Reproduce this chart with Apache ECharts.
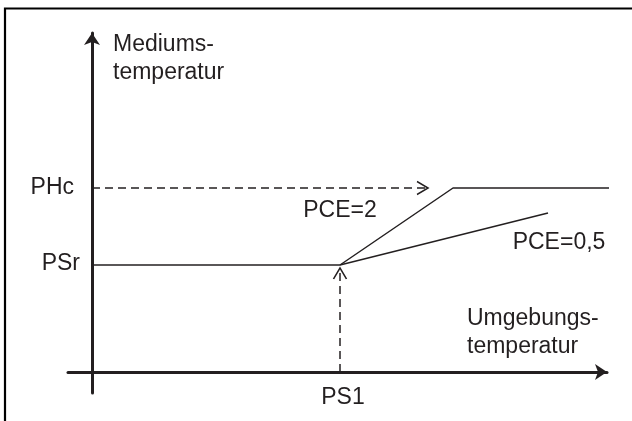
<!DOCTYPE html>
<html>
<head>
<meta charset="utf-8">
<script src="https://cdn.jsdelivr.net/npm/echarts@6/dist/echarts.min.js"></script>
<style>
  html, body { margin: 0; padding: 0; background: #fff; }
  #main { width: 632px; height: 421px; }
</style>
</head>
<body>
<div id="main"></div>
<script>
// Achsenbereich (Umgebungstemperatur / Mediumstemperatur, ohne Einheit)
const xBereich = [-24, 515];
const yBereich = [-21, 339];

// Sollwerte auf den Achsen
const tickWerteX = [248];
const tickNamenX = ["PS1"];
const tickWerteY = [107, 184];
const tickNamenY = ["PSr", "PHc"];

// Kennlinien
const psrX = [0, 248];
const psrY = [107, 107];
const pce2X = [248, 361, 520];
const pce2Y = [107, 184, 184];
const pce05X = [248, 456];
const pce05Y = [107, 159];

// gestrichelte Pfeile
const phcPfeilX = [0, 336];
const phcPfeilY = [184, 184];
const ps1PfeilX = [248, 248];
const ps1PfeilY = [0, 104];

const farbe = "#231f20";
const schrift = "'Liberation Sans', Arial, Helvetica, sans-serif";
const groesse = 23;

function paare(xs, ys) {
  return xs.map((x, i) => [x, ys[i]]);
}

// offene Pfeilspitze am letzten Punkt
function spitze(punkt, richtung) {
  const rechts = richtung === "rechts";
  return {
    value: punkt,
    symbol: rechts ? "path://M0,0 L11,6.5 L0,13" : "path://M0,11 L6.5,0 L13,11",
    symbolSize: rechts ? [11, 13] : [13, 11],
    symbolOffset: rechts ? [-5.5, 0] : [0, 5.5],
    itemStyle: { color: "none", borderColor: farbe, borderWidth: 1.5 },
  };
}

const chartDom = document.getElementById("main");
const myChart = echarts.init(chartDom);

const option = {
  animation: false,
  textStyle: { fontFamily: schrift },
  graphic: [
    {
      type: "polyline",
      shape: { points: [[5, 421], [5, 8.5], [632, 8.5]] },
      style: { stroke: "#000", lineWidth: 2.2, fill: null },
    },
  ],
  grid: { left: 68, right: 25, top: 33, bottom: 28 },
  xAxis: {
    type: "value",
    min: xBereich[0],
    max: xBereich[1],
    name: "Umgebungs-\ntemperatur",
    nameLocation: "end",
    nameGap: -140,
    nameTextStyle: {
      fontFamily: schrift,
      fontSize: groesse,
      lineHeight: 28,
      color: farbe,
      align: "left",
      verticalAlign: "bottom",
      padding: [0, 0, 11, 0],
    },
    axisLine: {
      onZero: true,
      symbol: ["none", "arrow"],
      symbolSize: [12, 12],
      lineStyle: { color: farbe, width: 3 },
    },
    axisTick: { show: false },
    splitLine: { show: false },
    axisLabel: {
      customValues: tickWerteX,
      formatter: (v) => tickNamenX[tickWerteX.indexOf(v)] || "",
      fontFamily: schrift,
      fontSize: groesse,
      color: farbe,
      margin: -7,
      padding: [0, 0, 0, 6],
    },
  },
  yAxis: {
    type: "value",
    min: yBereich[0],
    max: yBereich[1],
    name: "Mediums-\ntemperatur",
    nameLocation: "end",
    nameGap: 2,
    nameTextStyle: {
      fontFamily: schrift,
      fontSize: groesse,
      lineHeight: 28,
      color: farbe,
      align: "left",
      verticalAlign: "top",
      padding: [0, 0, 0, 21],
    },
    axisLine: {
      onZero: true,
      symbol: ["none", "arrow"],
      symbolSize: [12, 12],
      lineStyle: { color: farbe, width: 3 },
    },
    axisTick: { show: false },
    splitLine: { show: false },
    axisLabel: {
      customValues: tickWerteY,
      formatter: (v) => {
        const n = tickNamenY[tickWerteY.indexOf(v)];
        if (!n) return "";
        return n === "PHc" ? "{h|" + n + "}" : "{s|" + n + "}";
      },
      margin: -12,
      rich: {
        h: { fontFamily: schrift, fontSize: groesse, color: farbe, padding: [0, 6, 0, 0] },
        s: { fontFamily: schrift, fontSize: groesse, color: farbe, padding: [0, 0, 2, 0] },
      },
    },
  },
  series: [
    {
      name: "PSr",
      type: "line",
      data: paare(psrX, psrY),
      symbol: "none",
      lineStyle: { color: farbe, width: 1.5 },
    },
    {
      name: "PCE=2",
      type: "line",
      data: paare(pce2X, pce2Y),
      symbol: "none",
      clip: false,
      lineStyle: { color: farbe, width: 1.5 },
      markPoint: {
        symbol: "circle",
        symbolSize: 1,
        itemStyle: { color: "transparent" },
        label: {
          show: true,
          position: "inside",
          offset: [-113, 23],
          formatter: "PCE=2",
          fontFamily: schrift,
          fontSize: groesse,
          color: farbe,
        },
        data: [{ coord: [pce2X[1], pce2Y[1]] }],
      },
    },
    {
      name: "PCE=0,5",
      type: "line",
      data: paare(pce05X, pce05Y),
      symbol: "none",
      lineStyle: { color: farbe, width: 1.5 },
      markPoint: {
        symbol: "circle",
        symbolSize: 1,
        itemStyle: { color: "transparent" },
        label: {
          show: true,
          position: "inside",
          offset: [11, 30],
          formatter: "PCE=0,5",
          fontFamily: schrift,
          fontSize: groesse,
          color: farbe,
        },
        data: [{ coord: [pce05X[1], pce05Y[1]] }],
      },
    },
    {
      name: "PHc-Pfeil",
      type: "line",
      symbol: "none",
      data: [
        { value: [phcPfeilX[0], phcPfeilY[0]] },
        spitze([phcPfeilX[1], phcPfeilY[1]], "rechts"),
      ],
      lineStyle: { color: farbe, width: 1.5, type: [8, 5] },
    },
    {
      name: "PS1-Pfeil",
      type: "line",
      symbol: "none",
      data: [
        { value: [ps1PfeilX[0], ps1PfeilY[0]] },
        spitze([ps1PfeilX[1], ps1PfeilY[1]], "oben"),
      ],
      lineStyle: { color: farbe, width: 1.5, type: [8, 5] },
    },
  ],
};

myChart.setOption(option);
</script>
</body>
</html>
